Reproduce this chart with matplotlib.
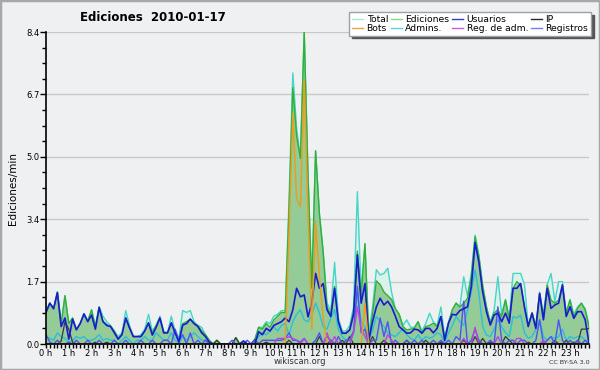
import numpy as np
import matplotlib
matplotlib.use("Agg")
import matplotlib.pyplot as plt
from matplotlib.lines import Line2D
from matplotlib.patches import Rectangle
from matplotlib.ticker import MultipleLocator, FixedLocator

# ── DATA: one value per 10 minutes, 0:00 .. 23:50 (6 per row = 1 hour) ──
total = [
    0.90, 1.10, 0.95, 1.40, 0.55, 1.30,
    0.55, 0.70, 0.40, 0.55, 0.81, 0.62,
    0.92, 0.50, 1.00, 0.75, 0.60, 0.50,
    0.35, 0.20, 0.30, 0.90, 0.50, 0.20,
    0.20, 0.25, 0.40, 0.80, 0.35, 0.50,
    0.75, 0.35, 0.30, 0.75, 0.35, 0.15,
    0.90, 0.85, 0.90, 0.60, 0.50, 0.45,
    0.25, 0.10, 0.00, 0.10, 0.00, 0.00,
    0.00, 0.00, 0.17, 0.00, 0.08, 0.00,
    0.00, 0.12, 0.45, 0.45, 0.60, 0.55,
    0.75, 0.80, 0.90, 0.90, 3.90, 7.30,
    5.80, 5.00, 8.40, 4.60, 1.60, 5.20,
    3.50, 2.50, 1.10, 0.90, 2.20, 0.70,
    0.35, 0.35, 0.50, 1.00, 4.10, 1.40,
    2.70, 0.30, 1.00, 2.00, 1.86, 1.90,
    2.04, 1.40, 0.95, 0.80, 0.50, 0.65,
    0.45, 0.45, 0.60, 0.35, 0.55, 0.83,
    0.60, 0.50, 1.00, 0.20, 0.60, 0.92,
    1.10, 1.00, 1.81, 1.30, 1.90, 2.93,
    2.40, 1.60, 1.00, 0.60, 0.90, 1.81,
    0.80, 1.20, 0.70, 1.90, 1.90, 1.90,
    1.60, 0.50, 0.85, 0.50, 1.40, 0.80,
    1.60, 1.90, 1.15, 1.68, 1.68, 0.85,
    1.20, 0.80, 1.00, 1.10, 0.95, 0.50,
]
ediciones = [
    0.85, 1.10, 0.95, 1.40, 0.55, 1.30,
    0.55, 0.70, 0.40, 0.55, 0.81, 0.62,
    0.92, 0.45, 1.00, 0.62, 0.52, 0.48,
    0.35, 0.15, 0.25, 0.70, 0.45, 0.20,
    0.20, 0.20, 0.35, 0.57, 0.30, 0.50,
    0.70, 0.30, 0.30, 0.57, 0.30, 0.10,
    0.55, 0.60, 0.67, 0.55, 0.50, 0.35,
    0.25, 0.10, 0.00, 0.10, 0.00, 0.00,
    0.00, 0.00, 0.17, 0.00, 0.08, 0.00,
    0.00, 0.12, 0.45, 0.40, 0.55, 0.45,
    0.65, 0.75, 0.85, 0.85, 3.60, 6.90,
    5.60, 5.00, 8.40, 4.50, 1.50, 5.20,
    3.50, 2.45, 1.00, 0.80, 1.55, 0.60,
    0.30, 0.30, 0.40, 0.90, 2.50, 1.30,
    2.70, 0.15, 0.80, 1.70, 1.60, 1.40,
    1.30, 1.20, 0.95, 0.80, 0.47, 0.38,
    0.40, 0.42, 0.60, 0.29, 0.47, 0.50,
    0.56, 0.47, 0.74, 0.15, 0.56, 0.92,
    1.10, 1.00, 1.10, 1.23, 1.81, 2.89,
    2.35, 1.54, 1.00, 0.56, 0.83, 0.92,
    0.74, 1.18, 0.65, 1.50, 1.68, 1.59,
    1.00, 0.47, 0.83, 0.47, 1.36, 0.74,
    1.59, 1.18, 1.10, 1.18, 1.59, 0.83,
    1.18, 0.74, 0.96, 1.10, 0.92, 0.47,
]
usuarios = [
    0.85, 1.10, 0.95, 1.38, 0.47, 0.70,
    0.13, 0.67, 0.38, 0.55, 0.81, 0.60,
    0.78, 0.40, 0.98, 0.60, 0.50, 0.47,
    0.30, 0.13, 0.25, 0.70, 0.43, 0.20,
    0.20, 0.20, 0.35, 0.57, 0.24, 0.45,
    0.70, 0.30, 0.30, 0.57, 0.30, 0.05,
    0.51, 0.55, 0.67, 0.55, 0.47, 0.30,
    0.20, 0.05, 0.00, 0.00, 0.00, 0.00,
    0.00, 0.00, 0.00, 0.00, 0.08, 0.00,
    0.00, 0.00, 0.33, 0.25, 0.42, 0.35,
    0.50, 0.55, 0.60, 0.70, 0.60, 0.92,
    1.50, 1.27, 1.32, 0.73, 1.10, 1.90,
    1.50, 1.63, 0.92, 0.74, 1.50, 0.60,
    0.29, 0.29, 0.38, 0.80, 2.40, 1.10,
    1.63, 0.10, 0.60, 1.00, 1.23, 1.05,
    1.15, 1.00, 0.75, 0.47, 0.38, 0.29,
    0.30, 0.40, 0.38, 0.29, 0.42, 0.42,
    0.30, 0.42, 0.74, 0.10, 0.56, 0.80,
    0.78, 0.90, 0.95, 1.00, 1.54, 2.73,
    2.20, 1.40, 0.87, 0.51, 0.78, 0.83,
    0.60, 0.83, 0.56, 1.50, 1.50, 1.63,
    1.00, 0.47, 0.83, 0.42, 1.36, 0.65,
    1.50, 0.96, 1.05, 1.10, 1.59, 0.74,
    1.00, 0.69, 0.87, 0.87, 0.65, 0.02,
]
ip = [
    0.00, 0.00, 0.00, 0.00, 0.08, 0.60,
    0.40, 0.05, 0.00, 0.00, 0.00, 0.00,
    0.00, 0.05, 0.00, 0.00, 0.05, 0.00,
    0.00, 0.00, 0.00, 0.00, 0.00, 0.00,
    0.00, 0.00, 0.00, 0.00, 0.00, 0.00,
    0.00, 0.00, 0.00, 0.00, 0.00, 0.00,
    0.00, 0.00, 0.00, 0.00, 0.00, 0.00,
    0.00, 0.00, 0.00, 0.10, 0.00, 0.00,
    0.00, 0.00, 0.17, 0.00, 0.00, 0.00,
    0.00, 0.12, 0.00, 0.00, 0.05, 0.00,
    0.00, 0.00, 0.00, 0.00, 0.10, 0.00,
    0.00, 0.00, 0.00, 0.00, 0.00, 0.00,
    0.20, 0.00, 0.00, 0.10, 0.00, 0.00,
    0.10, 0.00, 0.20, 0.00, 0.00, 0.00,
    0.00, 0.00, 0.20, 0.00, 0.00, 0.10,
    0.00, 0.00, 0.00, 0.00, 0.00, 0.10,
    0.00, 0.00, 0.00, 0.00, 0.10, 0.00,
    0.00, 0.00, 0.05, 0.00, 0.00, 0.00,
    0.00, 0.00, 0.10, 0.00, 0.00, 0.20,
    0.00, 0.15, 0.00, 0.05, 0.00, 0.00,
    0.00, 0.20, 0.10, 0.00, 0.00, 0.00,
    0.00, 0.05, 0.00, 0.00, 0.00, 0.00,
    0.00, 0.00, 0.10, 0.00, 0.00, 0.10,
    0.00, 0.05, 0.00, 0.40, 0.40, 0.42,
]
bots = [0.0] * 63 + [0.0, 3.0, 6.2, 3.9, 3.7, 7.1, 3.5, 0.4, 3.3, 1.8, 0.7, 0.0] \
    + [0.0] * 9 + [1.1] + [0.0] * 59
admins = [
    0.20, 0.15, 0.10, 0.30, 0.20, 0.15,
    0.05, 0.10, 0.20, 0.15, 0.20, 0.10,
    0.10, 0.15, 0.25, 0.10, 0.15, 0.10,
    0.10, 0.00, 0.10, 0.20, 0.10, 0.00,
    0.10, 0.10, 0.20, 0.10, 0.10, 0.30,
    0.20, 0.10, 0.10, 0.30, 0.10, 0.00,
    0.20, 0.10, 0.20, 0.30, 0.20, 0.10,
    0.10, 0.00, 0.00, 0.00, 0.00, 0.00,
    0.00, 0.00, 0.00, 0.00, 0.00, 0.00,
    0.00, 0.05, 0.20, 0.30, 0.25, 0.35,
    0.46, 0.35, 0.50, 0.55, 0.25, 0.60,
    0.80, 0.92, 0.65, 0.60, 0.80, 1.10,
    0.83, 0.47, 0.40, 0.70, 0.92, 0.40,
    0.20, 0.10, 0.20, 0.30, 1.36, 0.60,
    0.45, 0.10, 0.37, 0.74, 0.60, 0.47,
    0.30, 0.24, 0.20, 0.30, 0.42, 0.25,
    0.15, 0.10, 0.25, 0.10, 0.20, 0.15,
    0.20, 0.30, 0.25, 0.05, 0.30, 0.50,
    0.74, 0.60, 0.50, 0.90, 1.40, 2.00,
    1.36, 0.47, 0.24, 0.20, 0.40, 0.65,
    0.47, 0.30, 0.20, 0.74, 0.70, 0.78,
    0.30, 0.15, 0.20, 0.40, 0.65, 0.20,
    0.10, 0.20, 0.15, 0.20, 0.40, 0.10,
    0.20, 0.15, 0.20, 0.20, 0.10, 0.05,
]
reg_adm = [0.0] * 61 + [0.15, 0.15, 0.15, 0.2, 0.15, 0.1, 0.0, 0.15, 0.0, 0.0,
                        0.0, 0.0, 0.0, 0.3, 0.0, 0.2, 0.0, 0.0, 0.0, 0.0,
                        0.3, 1.0, 0.4, 0.2, 0.0, 0.0, 0.0, 0.0, 0.0, 0.25,
                        0.1] + [0.0] * 18 + [0.15, 0.0, 0.0, 0.45, 0.0, 0.0,
                        0.0, 0.0, 0.0, 0.2, 0.0, 0.0, 0.0, 0.0, 0.15, 0.15,
                        0.0, 0.0, 0.0, 0.0, 0.0, 0.1] + [0.0] * 12
registros = [
    0.25, 0.05, 0.00, 0.10, 0.00, 0.00,
    0.05, 0.00, 0.10, 0.00, 0.00, 0.10,
    0.00, 0.00, 0.10, 0.00, 0.00, 0.00,
    0.10, 0.00, 0.00, 0.10, 0.00, 0.00,
    0.00, 0.10, 0.00, 0.00, 0.10, 0.00,
    0.00, 0.10, 0.10, 0.00, 0.40, 0.10,
    0.25, 0.00, 0.30, 0.00, 0.10, 0.00,
    0.10, 0.00, 0.00, 0.00, 0.00, 0.00,
    0.00, 0.10, 0.00, 0.00, 0.00, 0.10,
    0.00, 0.10, 0.00, 0.10, 0.10, 0.10,
    0.10, 0.10, 0.10, 0.15, 0.30, 0.10,
    0.10, 0.05, 0.15, 0.00, 0.00, 0.10,
    0.30, 0.00, 0.20, 0.10, 0.00, 0.20,
    0.00, 0.10, 0.10, 0.35, 1.55, 0.30,
    0.40, 0.00, 0.10, 0.10, 0.70, 0.20,
    0.60, 0.00, 0.10, 0.00, 0.00, 0.10,
    0.00, 0.10, 0.00, 0.10, 0.00, 0.00,
    0.10, 0.00, 0.10, 0.00, 0.10, 0.00,
    0.20, 0.10, 1.15, 0.00, 0.10, 0.40,
    0.10, 0.00, 0.00, 0.10, 0.00, 1.00,
    0.10, 0.00, 0.10, 0.10, 0.00, 0.10,
    0.10, 0.00, 0.00, 0.10, 0.65, 0.00,
    0.10, 0.20, 0.00, 0.65, 0.10, 0.00,
    0.10, 0.00, 0.10, 0.00, 0.10, 0.00,
]
hour_labels = [f"{h} h" for h in range(24)]

# ── STYLE ──
BG = "#eef0f1"
C_TOTAL, F_TOTAL = "#44d6c6", "#dcf1ec"
C_EDIC, F_EDIC = "#33b033", "#94cb96"
C_USU = "#1a1ad2"
C_IP = "#3a3a3a"
C_BOTS = "#f29a1a"
C_ADM = "#28bfe0"
C_REGADM = "#c040e0"
C_REG = "#5252f2"

hours = np.arange(len(total)) / 6.0

fig = plt.figure(figsize=(6.0, 3.7), dpi=100, facecolor=BG)
ax = fig.add_axes([46 / 600, 1 - 344 / 370, 543 / 600, 312 / 370])
ax.set_facecolor(BG)

ax.fill_between(hours, total, color=F_TOTAL, lw=0, zorder=1)
ax.fill_between(hours, ediciones, color=F_EDIC, lw=0, zorder=2)
ax.plot(hours, total, color=C_TOTAL, lw=1.0, zorder=3)
ax.plot(hours, ediciones, color=C_EDIC, lw=1.0, zorder=4)
ax.plot(hours, admins, color=C_ADM, lw=1.0, zorder=5)
ax.plot(hours, ip, color=C_IP, lw=0.9, zorder=5)
ax.plot(hours, registros, color=C_REG, lw=1.0, zorder=6)
ax.plot(hours, reg_adm, color=C_REGADM, lw=1.0, zorder=6)
ax.plot(hours, usuarios, color=C_USU, lw=1.2, zorder=7)
ax.plot(hours, bots, color=C_BOTS, lw=1.0, zorder=8)

ymax = 8.4
yt = np.linspace(0, ymax, 6)
ax.set_ylim(0, ymax)
ax.set_xlim(0, hours[-1])
ax.yaxis.set_major_locator(FixedLocator(yt))
ax.set_yticklabels([f"{v:.1f}" for v in yt])
ax.yaxis.set_minor_locator(MultipleLocator(ymax / 20))
ax.set_xticks(range(24))
ax.set_xticklabels(hour_labels)
ax.xaxis.set_minor_locator(MultipleLocator(1 / 6))
ax.tick_params(axis="both", which="major", direction="out", length=4, width=1,
               labelsize=6, pad=0.5, colors="black")
ax.tick_params(axis="x", which="major", length=3)
ax.tick_params(axis="both", which="minor", direction="out", length=3, width=1)
ax.grid(axis="y", color="#c9c9c9", lw=1, zorder=0)
ax.set_axisbelow(True)
for s in ["top", "right"]:
    ax.spines[s].set_visible(False)
for s in ["left", "bottom"]:
    ax.spines[s].set_linewidth(1.2)
    ax.spines[s].set_zorder(10)

ax.set_ylabel("Ediciones/min", fontsize=7.5, labelpad=6)

fig.text(0.255, 0.953, "Ediciones  2010-01-17", fontsize=8.5, fontweight="bold",
         ha="center", va="center")
fig.text(0.5, 0.022, "wikiscan.org", fontsize=6, color="#333333",
         ha="center", va="center")
fig.text(0.982, 0.020, "CC BY-SA 3.0", fontsize=4.6, color="#333333",
         ha="right", va="center")

# ── LEGEND (column-major order for 4 columns) ──
def h(c, lw=1.0):
    return Line2D([0], [0], color=c, lw=lw)

handles = [h("#a8e6de"), h("#f2a040"), h("#8fd68f"), h("#5cd0e6"),
           h("#3838d4"), h("#d058e6"), h("#2a2a2a"), h("#7c7cf0")]
labels = ["Total", "Bots", "Ediciones", "Admins.",
          "Usuarios", "Reg. de adm.", "IP", "Registros"]
leg = fig.legend(handles, labels, ncol=4, loc="upper right",
                 bbox_to_anchor=(591 / 600, 1 - 12 / 370), fontsize=6.7,
                 handlelength=1.2, handletextpad=0.35, columnspacing=0.3,
                 labelspacing=0.0, borderpad=0.3, borderaxespad=0,
                 fancybox=False, framealpha=1, edgecolor="#a0a0a0",
                 shadow={"color": "#555555", "alpha": 1})
leg.get_frame().set_linewidth(1)

fig.patches.append(Rectangle((0, 0), 1, 1, transform=fig.transFigure,
                             fill=False, edgecolor="#a8a8a8", lw=2.5))

fig.savefig("out.png", dpi=100, facecolor=BG)
